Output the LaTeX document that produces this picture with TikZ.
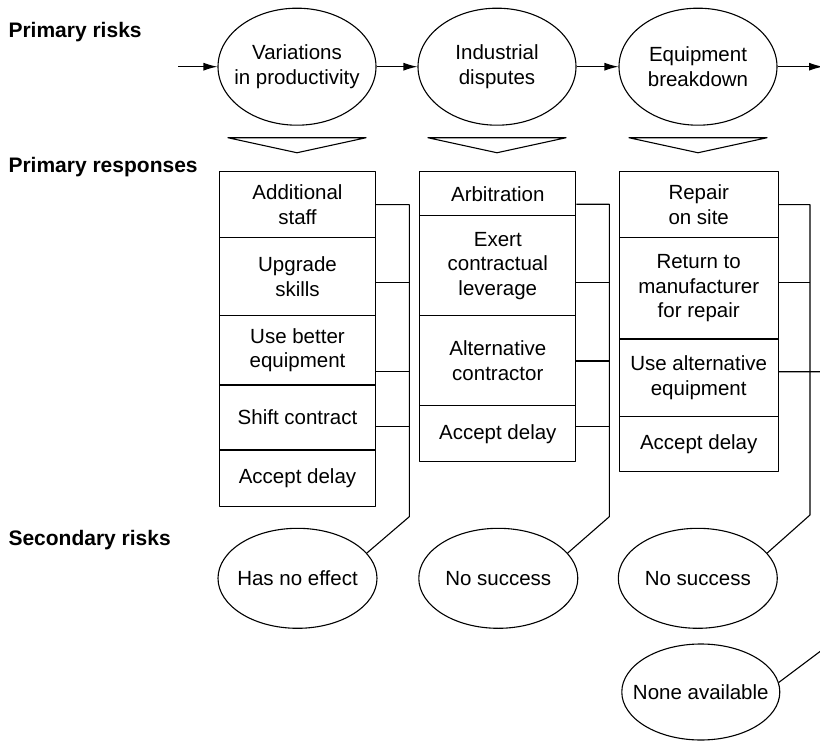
\documentclass[tikz,border=0pt]{standalone}
\usepackage{fontspec}
\setmainfont{Liberation Sans}
\usetikzlibrary{shapes.geometric,arrows.meta,calc}

\begin{document}
\begin{tikzpicture}[x=1pt, y=-1pt, line width=1.1pt, line join=round,
	txt/.style={align=center, inner sep=0pt, font=\fontsize{20.5}{24.5}\selectfont},
	risk/.style={txt, draw, ellipse, inner xsep=-30pt, minimum width=158pt, minimum height=117pt},
	sec/.style={txt, draw, ellipse, inner xsep=-30pt, minimum width=159pt, minimum height=100pt},
	resp/.style={txt, draw, rectangle, minimum width=156pt},
	lbl/.style={anchor=west, inner sep=0pt, font=\bfseries\fontsize{21}{25}\selectfont},
	arr/.style={-{Latex[length=14pt,width=8pt]}}]
	\useasboundingbox (0,0) rectangle (820,741);
	
	\node[lbl] (lrisk) at (8,31.7) {Primary risks};
	\node[lbl] (lresp) at (8,166.7) {Primary responses};
	\node[lbl] (lsec) at (8,540) {Secondary risks};
	
	\node[risk] (r1) at (297,66.7) {Variations\\in productivity};
	\node[risk] (r2) at (497,66.7) {Industrial\\disputes};
	\node[risk] (r3) at (698,66.7) {Equipment\\breakdown};
	\coordinate (in) at (178,66.7);
	\coordinate (out) at (823,66.7);
	\draw[arr] (in) -- (r1);
	\draw[arr] (r1) -- (r2);
	\draw[arr] (r2) -- (r3);
	\draw[arr] (r3) -- (out);
	
	\foreach \r in {r1,r2,r3}{
		\draw ($(\r.south)+(-69,12)$) -- ++(138,0) -- ($(\r.south)+(0,27)$) -- cycle;
	}
	
	\node[resp, minimum height=66pt] (c1a) at (297.5,204.7) {Additional\\staff};
	\node[resp, minimum height=78pt] (c1b) at (297.5,276.7) {Upgrade\\skills};
	\node[resp, minimum height=69.3pt] (c1c) at (297.5,350.3) {Use better\\equipment};
	\node[resp, minimum height=65pt] (c1d) at (297.5,417.5) {Shift contract};
	\node[resp, minimum height=56.7pt] (c1e) at (297.5,478.3) {Accept delay};
	
	\node[resp, minimum height=44pt] (c2a) at (497.8,193.7) {Arbitration};
	\node[resp, minimum height=100pt] (c2b) at (497.8,265.7) {Exert\\contractual\\leverage};
	\node[resp, minimum height=90pt] (c2c) at (497.8,360.7) {Alternative\\contractor};
	\node[resp, minimum height=56pt] (c2d) at (497.8,433.7) {Accept delay};
	
	\node[resp, minimum width=159pt, minimum height=66pt] (c3a) at (698.7,204.7) {Repair\\on site};
	\node[resp, minimum width=159pt, minimum height=101.3pt] (c3b) at (698.7,288.3) {Return to\\manufacturer\\for repair};
	\node[resp, minimum width=159pt, minimum height=77.7pt] (c3c) at (698.7,377.8) {Use alternative\\equipment};
	\node[resp, minimum width=159pt, minimum height=55pt] (c3d) at (698.7,444.2) {Accept delay};
	
	\node[sec] (s1) at (297.5,578.3) {Has no effect};
	\node[sec] (s2) at (498.3,578.3) {No success};
	\node[sec] (s3) at (697.8,578.3) {No success};
	\node[sec, minimum width=158pt, minimum height=96pt] (none) at (700.8,692) {None available};
	
	\coordinate (b1b) at (409.3,516.7);
	\coordinate (b2b) at (609.3,516.7);
	\coordinate (b3b) at (810,515);
	\coordinate (b4b) at (830,644);
	
	\draw (c1a.east) -| (b1b) -- (s1.20);
	\foreach \c/\dy in {c1b/6, c1c/21.4, c1d/9.2}{
		\draw ($(\c.east)+(0,\dy)$) -- ($(\c.east -| b1b)+(0,\dy)$);
	}
	
	\draw ($(c2a.east)+(0,10.6)$) -| (b2b) -- (s2.20);
	\foreach \c/\dy in {c2b/17, c2c/0.3, c2d/-7}{
		\draw ($(\c.east)+(0,\dy)$) -- ($(\c.east -| b2b)+(0,\dy)$);
	}
	
	\draw (c3a.east) -| (b3b) -- (s3.20);
	\draw ($(c3b.east)+(0,-5.6)$) -- ($(c3b.east -| b3b)+(0,-5.6)$);
	\draw ($(c3c.east)+(0,-6.1)$) -| (b4b) -- (none.7);
	
\end{tikzpicture}
\end{document}
